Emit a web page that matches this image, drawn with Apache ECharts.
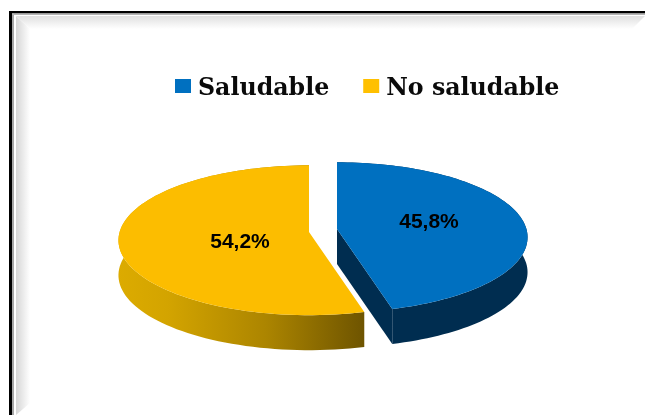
<!DOCTYPE html>
<html>
<head>
<meta charset="utf-8">
<style>html,body{margin:0;padding:0;background:#fff}#chart{width:645px;height:415px}</style>
<script src="https://cdn.jsdelivr.net/npm/echarts@6/dist/echarts.min.js"></script>
</head>
<body>
<div id="chart"></div>
<script>
const categories = ['Saludable', 'No saludable'];
const shares = [45.8, 54.2];

// Tilted-disc projection shared by both slices
const radiusX = 189.4, radiusY = 74, perspective = 0.11, depth = 35;
const total = shares.reduce((a, b) => a + b, 0);

function project(cx, cy, theta) {
  const u = Math.sin(theta), v = -Math.cos(theta), w = 1 - perspective * v;
  return [cx + radiusX * u / w, cy + radiusY * v / w];
}

function arcPoints(cx, cy, from, to) {
  const pts = [];
  const steps = 96;
  for (let i = 0; i <= steps; i++) pts.push(project(cx, cy, from + (to - from) * i / steps));
  return pts;
}

// One exploded 3D slice: side wall, visible cut face, top face and value label
function sliceRenderer(index, opts) {
  return function (params, api) {
    const value = api.value(0);
    const before = shares.slice(0, index).reduce((a, b) => a + b, 0);
    const from = before / total * Math.PI * 2;
    const to = from + value / total * Math.PI * 2;
    const arc = arcPoints(opts.cx, opts.cy, from, to);
    const lowered = arc.map(p => [p[0], p[1] + depth]).reverse();
    const apex = [opts.cx, opts.cy];
    const children = [
      { type: 'polygon', shape: { points: arc.concat(lowered) }, style: { fill: opts.side } }
    ];
    if (opts.cutFace) {
      const end = arc[arc.length - 1];
      children.push({
        type: 'polygon',
        shape: { points: [apex, end, [end[0], end[1] + depth], [apex[0], apex[1] + depth]] },
        style: { fill: opts.cutFace }
      });
    }
    children.push({
      type: 'polygon',
      shape: { points: [apex].concat(arc) },
      style: { fill: opts.top }
    });
    children.push({
      type: 'text',
      x: opts.labelX,
      y: opts.labelY,
      style: {
        text: value.toFixed(1).replace('.', ',') + '%',
        fill: '#000',
        font: 'bold 21px "Liberation Sans", Arial, sans-serif',
        align: 'center',
        verticalAlign: 'middle'
      }
    });
    return { type: 'group', children };
  };
}

const wallGradient = {
  type: 'linear', x: 0, y: 0, x2: 1, y2: 0,
  colorStops: [
    { offset: 0, color: '#dcab00' },
    { offset: 0.2, color: '#d3a400' },
    { offset: 0.6, color: '#ac8500' },
    { offset: 1, color: '#6e5400' }
  ]
};

function bevel(points, x, y, x2, y2, from) {
  return {
    type: 'polygon',
    shape: { points },
    style: {
      fill: {
        type: 'linear', x, y, x2, y2,
        colorStops: [{ offset: 0, color: from }, { offset: 1, color: '#ffffff' }]
      }
    },
    silent: true
  };
}

const legendFont = {
  color: '#0a0a0a',
  fontFamily: '"DejaVu Serif", serif',
  fontWeight: 'bold',
  fontSize: 23.7
};

const chart = echarts.init(document.getElementById('chart'), null, { renderer: 'canvas' });
chart.setOption({
  animation: false,
  backgroundColor: '#ffffff',
  legend: {
    left: 175,
    top: 77,
    padding: 0,
    icon: 'rect',
    itemWidth: 16,
    itemHeight: 14,
    itemGap: 34,
    data: categories,
    selectedMode: false,
    formatter: '{t|{name}}',
    textStyle: {
      ...legendFont,
      rich: { t: { ...legendFont, padding: [6, 0, 0, 2] } }
    }
  },
  graphic: [
    // Picture-frame border with a soft inner bevel
    bevel([[16, 16], [30, 29], [30, 403], [16, 415]], 0, 0, 1, 0, '#d6d6d6'),
    bevel([[16, 16], [645, 16], [632, 29], [30, 29]], 0, 0, 0, 1, '#e0e0e0'),
    { type: 'rect', shape: { x: 9, y: 11, width: 3, height: 404 }, style: { fill: '#000' }, silent: true },
    { type: 'rect', shape: { x: 9, y: 11, width: 636, height: 2.4 }, style: { fill: '#000' }, silent: true },
    { type: 'rect', shape: { x: 12, y: 13.4, width: 2, height: 402 }, style: { fill: '#a8a8a8' }, silent: true },
    { type: 'rect', shape: { x: 12, y: 13.4, width: 633, height: 1.6 }, style: { fill: '#b4b4b4' }, silent: true }
  ],
  series: [
    {
      name: categories[0],
      type: 'custom',
      coordinateSystem: 'none',
      itemStyle: { color: '#0070c0' },
      data: [[shares[0]]],
      renderItem: sliceRenderer(0, {
        cx: 337, cy: 229, top: '#0070c0', side: '#002d50', cutFace: '#002d50',
        labelX: 429, labelY: 222
      })
    },
    {
      name: categories[1],
      type: 'custom',
      coordinateSystem: 'none',
      itemStyle: { color: '#ffc000' },
      data: [[shares[1]]],
      renderItem: sliceRenderer(1, {
        cx: 309, cy: 232, top: '#fcbd00', side: wallGradient,
        labelX: 240, labelY: 242
      })
    }
  ]
});
</script>
</body>
</html>
